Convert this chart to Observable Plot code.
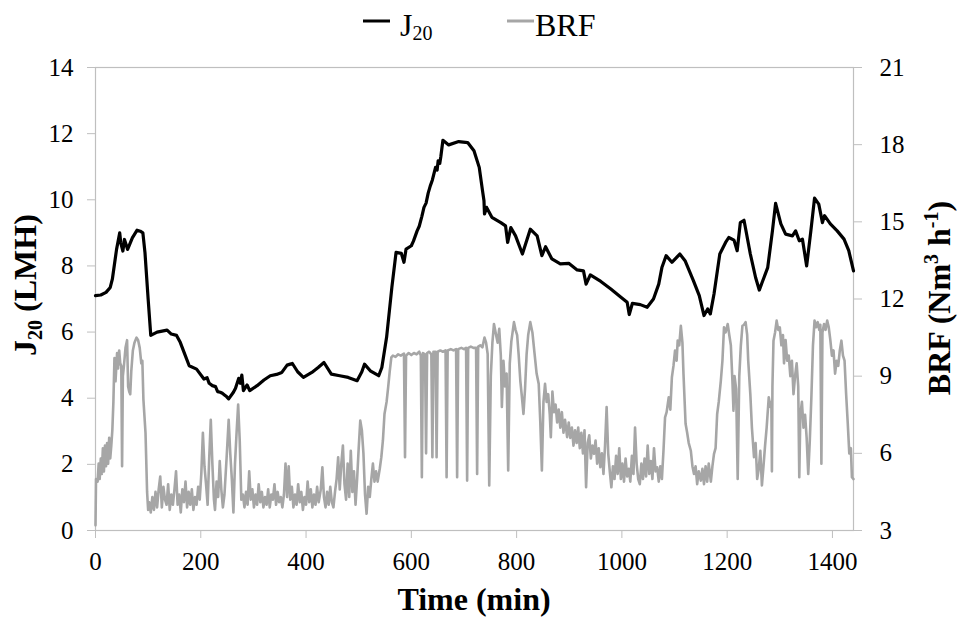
<!DOCTYPE html>
<html>
<head>
<meta charset="utf-8">
<script src="https://cdn.jsdelivr.net/npm/d3@7"></script>
<script src="https://cdn.jsdelivr.net/npm/@observablehq/plot@0.6"></script>
<style>
  html, body { margin: 0; padding: 0; background: #fff; }
  #wrap { width: 957px; font-family: "Liberation Serif", "Times New Roman", serif; }
  #legend { display: block; }
</style>
</head>
<body>
<div id="wrap">
  <svg id="legend" width="957" height="45"></svg>
  <div id="chart"></div>
</div>
<script>
// ---------------- data ----------------
const xTicks = [0, 200, 400, 600, 800, 1000, 1200, 1400];
const jTicks = [0, 2, 4, 6, 8, 10, 12, 14];
const brfTicks = [3, 6, 9, 12, 15, 18, 21];

const j20Time = [0,10,20,28,32,40,46,48,52,55,57,61,70,79,85,90,94,100,105,117,136,144,154,161,167,178,192,206,212,216,222,228,232,237,241,245,249,253,262,266,272,275,278,281,288,293,307,320,332,344,354,364,370,374,384,395,411,423,434,448,464,480,497,506,511,522,538,544,553,563,571,581,586,590,600,604,611,615,620,624,628,632,636,640,646,649,651,654,656,660,671,690,707,719,729,735,738,739,743,753,770,779,783,789,798,811,826,839,848,855,867,883,899,915,927,932,940,960,979,997,1010,1014,1020,1035,1048,1060,1070,1076,1084,1095,1110,1120,1136,1147,1156,1163,1168,1175,1186,1197,1203,1213,1219,1225,1232,1244,1254,1261,1277,1286,1292,1302,1311,1324,1330,1337,1343,1351,1359,1366,1374,1381,1385,1396,1409,1422,1431,1440];
const j20Value = [7.1,7.12,7.2,7.35,7.6,8.5,9.0,8.7,8.45,8.8,8.7,8.5,8.85,9.08,9.05,9.0,8.4,7.0,5.9,6.0,6.06,5.94,5.9,5.69,5.44,4.98,4.88,4.58,4.62,4.45,4.38,4.35,4.2,4.18,4.15,4.1,4.05,3.98,4.18,4.3,4.6,4.45,4.7,4.23,4.4,4.23,4.38,4.55,4.68,4.72,4.78,5.0,5.03,5.05,4.8,4.63,4.78,4.93,5.08,4.73,4.68,4.63,4.53,4.8,5.03,4.83,4.68,4.93,5.84,7.35,8.41,8.38,8.11,8.51,8.61,8.75,9.06,9.2,9.5,9.77,9.9,10.2,10.42,10.6,10.98,10.9,11.18,11.1,11.3,11.8,11.66,11.76,11.73,11.48,10.98,10.3,9.97,9.57,9.77,9.47,9.31,9.21,8.71,9.16,8.91,8.36,9.11,8.91,8.31,8.58,8.21,8.06,8.08,7.88,7.85,7.45,7.73,7.53,7.3,7.07,6.9,6.53,6.87,6.83,6.75,7.0,7.45,7.95,8.31,8.11,8.36,8.16,7.55,7.1,6.5,6.7,6.55,7.15,8.36,8.71,8.86,8.78,8.46,9.31,9.38,8.36,7.65,7.27,7.95,9.06,9.89,9.27,8.96,8.91,9.06,8.76,8.81,8.0,9.06,10.05,9.87,9.31,9.52,9.27,9.06,8.81,8.46,7.85];

const brfTime = [0,1,4,6,8,10,12,14,16,18,20,22,24,26,28,30,32,34,36,38,41,43,45,47,49,50.5,52,54,57,60,62,64,66,68,71,74,78,81,84,87,89,91,95,98,100,102,105,108,111,114,117,120,123,126,129,132,135,138,141,144,147,150,153,156,159,162,165,168,171,174,177,180,183,186,189,192,195,198,201,204,207,210,213,216,219,222,225,227,230,233,236,239,242,245,249,253,256,259,262,265,268,271,274,277,280,283,286,289,292,295,298,301,304,307,310,313,316,319,322,325,328,331,334,337,340,343,346,349,352,355,358,361,364,367,370,373,376,379,382,385,388,391,394,397,400,403,406,409,412,415,418,421,424,428,431,434,437,440,443,446,449,452,455,458,461,464,467,470,473,476,479,482,485,488,491,494,497,500,503,506,509,512,515,518,521,524,527,530,533,536,540,543,546,549,553,556,559,562,565,570,575,580,586,588,590,595,600,605,610,615,618,620,622,626,628,630,634,638,640,642,646,648,650,655,660,665,667,669,675,680,685,687,689,695,700,704,706,708,713,718,723,725,727,731,735,739,742,745,748,751,754,757,761,764,767,770,772,775,778,781,784,787,790,795,798,801,804,807,810,813,816,819,822,826,830,834,838,842,845,848,851,854,857,860,863,865,868,871,874,877,880,883,886,889,892,896,899,902,905,908,911,914,917,920,923,926,929,932,935,938,941,944,947,950,953,956,959,962,965,968,971,974,977,980,983,986,989,992,995,998,1001,1004,1007,1010,1013,1016,1019,1022,1025,1028,1031,1034,1037,1040,1043,1046,1049,1052,1055,1058,1061,1064,1067,1070,1073,1076,1079,1082,1085,1089,1092,1095,1098,1101,1104,1106,1109,1112,1115,1117,1121,1124,1127,1131,1134,1137,1140,1143,1146,1150,1153,1156,1159,1162,1165,1169,1172,1175,1178,1181,1184,1188,1191,1194,1197,1201,1204,1207,1210,1212,1214,1217,1220,1223,1226,1229,1232,1235,1238,1240,1244,1247,1251,1254,1257,1260,1263,1266,1269,1272,1275,1279,1282,1284,1285,1286,1288,1291,1294,1297,1300,1303,1306,1308,1311,1314,1317,1320,1323,1326,1329,1332,1335,1337,1339,1342,1345,1348,1351,1354,1357,1360,1363,1366,1369,1372,1375,1377,1379,1381,1384,1387,1390,1393,1396,1399,1402,1405,1408,1411,1414,1417,1420,1423,1426,1429,1432,1435,1437,1440];
const brfValue = [3.2,5.0,4.9,5.6,5.0,5.8,5.2,6.2,5.3,6.3,5.5,6.4,5.6,6.6,5.8,6.3,6.9,8.0,9.7,8.8,9.9,9.3,10.0,9.5,9.4,5.5,9.0,9.4,10.1,10.4,8.6,8.4,8.3,9.2,10.0,10.3,10.5,10.4,10.1,9.5,9.6,8.1,6.8,4.5,3.8,4.1,3.7,4.3,3.8,4.5,3.9,4.6,5.1,3.9,4.7,4.2,4.0,4.8,3.8,4.4,4.0,4.6,5.3,4.0,4.4,3.7,4.6,4.1,4.9,3.9,4.5,4.0,4.6,3.8,4.3,4.0,4.7,4.2,5.2,6.8,5.5,4.8,4.0,5.8,7.3,5.6,4.2,3.8,4.9,4.3,5.7,4.6,3.9,4.4,5.8,7.3,6.0,5.0,3.7,5.6,6.8,7.9,6.5,4.2,4.4,3.9,4.5,4.0,5.3,4.2,4.6,3.9,4.4,4.0,4.8,4.1,4.5,3.9,4.3,4.0,4.6,3.9,4.4,4.2,4.8,4.0,4.5,4.1,4.3,3.9,4.4,5.6,4.3,5.5,4.2,4.7,3.9,4.4,4.0,4.8,4.1,4.5,3.8,4.3,4.0,4.9,4.1,4.6,3.9,4.4,4.0,4.7,4.1,4.6,5.46,4.3,3.9,4.5,4.0,4.7,4.1,3.9,4.5,5.0,5.85,4.6,5.6,6.3,4.8,4.2,5.6,4.3,6.1,4.5,5.3,4.0,5.0,6.2,7.27,6.9,6.0,4.4,3.65,4.7,4.3,5.0,5.6,4.9,5.3,4.9,5.4,5.85,6.5,7.53,8.0,8.57,9.2,9.73,9.8,9.75,9.85,9.8,9.88,5.85,9.8,9.9,9.82,9.9,9.85,9.95,9.8,5.07,9.9,9.85,6.0,9.9,9.95,9.85,5.85,9.95,9.95,5.85,9.95,10.0,9.95,10.0,5.07,10.0,10.05,10.0,10.05,5.07,10.05,10.1,10.05,10.1,4.94,10.1,10.15,10.1,10.1,5.2,10.15,10.2,10.12,10.5,10.3,9.86,4.75,9.0,10.3,11.03,10.6,10.3,10.84,9.8,7.8,9.6,8.6,9.1,5.33,9.5,10.35,11.1,10.8,10.6,9.8,8.83,8.2,7.53,8.5,9.86,10.6,11.1,10.7,9.9,9.1,8.7,7.2,5.33,8.0,8.7,8.0,8.3,7.5,6.63,8.4,7.6,7.9,7.2,7.7,7.0,7.6,6.8,7.3,6.63,7.2,6.6,7.0,6.3,6.9,6.4,7.0,6.2,6.8,6.0,6.9,4.68,6.4,6.7,5.8,6.3,5.98,6.5,5.6,6.2,5.46,6.0,5.2,6.3,7.8,6.0,5.3,4.68,5.5,5.0,5.9,5.2,6.2,5.0,5.6,4.9,5.8,5.1,5.4,4.9,5.9,5.2,7.0,5.6,5.0,4.8,5.6,5.0,5.8,5.1,6.3,5.2,5.7,5.0,6.2,5.3,5.46,4.9,5.5,5.0,6.1,7.4,7.6,8.18,7.7,8.96,9.4,10.0,9.6,10.38,10.2,10.96,10.3,9.1,7.15,6.8,6.4,6.1,5.5,5.2,5.5,4.8,5.3,4.94,5.4,4.8,5.5,4.9,5.6,4.9,5.5,5.98,6.2,7.53,8.0,8.83,9.6,10.9,10.7,11.03,10.6,10.2,8.8,7.66,9.0,8.5,5.0,9.0,10.2,10.96,11.0,11.1,10.6,9.6,8.3,7.0,5.85,6.4,5.0,5.4,6.1,4.75,5.5,6.3,7.0,8.18,7.8,8.0,5.3,8.6,10.38,10.7,11.16,10.8,10.9,10.2,10.6,9.5,10.4,9.6,9.8,9.0,9.6,8.3,9.0,9.5,8.6,5.07,7.5,8.0,7.0,7.5,6.6,5.2,6.5,8.2,10.2,11.16,10.9,11.1,10.8,11.0,5.6,10.7,11.03,10.8,11.16,10.9,10.4,9.8,10.0,9.1,9.6,9.4,10.0,10.38,9.8,9.6,8.3,7.2,6.0,6.2,5.07,5.0];

// ---------------- build ----------------
const brfMin = 3, brfMax = 21, jMin = 0, jMax = 14;
const toJ = b => (b - brfMin) / (brfMax - brfMin) * (jMax - jMin) + jMin;

const j20 = j20Time.map((t, i) => ({t, v: j20Value[i]}));
const brf = brfTime.map((t, i) => ({t, v: toJ(brfValue[i])}));

const grey = "#bfbfbf";
const serif = "'Liberation Serif', 'Times New Roman', serif";

const W = 957, H = 575;
const mL = 95, mR = 104, mT = 22, mB = 90;

const chart = Plot.plot({
  width: W,
  height: H,
  marginLeft: mL,
  marginRight: mR,
  marginTop: mT,
  marginBottom: mB,
  style: {fontFamily: serif, fontSize: "25px", background: "#fff", color: "#000", overflow: "visible"},
  x: {domain: [0, 1440]},
  y: {domain: [jMin, jMax]},
  marks: [
    Plot.frame({stroke: grey, strokeWidth: 1.2}),
    Plot.axisX(xTicks, {anchor: "bottom", tickSize: 8, tickPadding: 14, stroke: grey, fill: "#000", fontSize: 25, label: null, tickFormat: d => String(d)}),
    Plot.axisY(jTicks, {anchor: "left", tickSize: 8, tickPadding: 14, stroke: grey, fill: "#000", fontSize: 25, label: null, tickFormat: d => String(d)}),
    Plot.axisY(brfTicks.map(toJ), {anchor: "right", tickSize: 8, tickPadding: 18, stroke: grey, fill: "#000", fontSize: 25, label: null, tickFormat: (d, i) => String(brfTicks[i])}),
    Plot.line(brf, {x: "t", y: "v", stroke: "#a6a6a6", strokeWidth: 2.6, strokeLinejoin: "round"}),
    Plot.line(j20, {x: "t", y: "v", stroke: "#000", strokeWidth: 3.2, strokeLinejoin: "round"})
  ]
});
document.getElementById("chart").appendChild(chart);

// ---------------- axis titles (with sub/superscripts) ----------------
const svg = d3.select(chart);
const titleFont = 32, smallFont = 20;

// x title
svg.append("text")
  .attr("x", (mL + (W - mR)) / 2)
  .attr("y", 565)
  .attr("text-anchor", "middle")
  .attr("font-family", serif)
  .attr("font-weight", "bold")
  .attr("font-size", titleFont)
  .attr("fill", "#000")
  .text("Time (min)");

// left title
const lt = svg.append("text")
  .attr("transform", `translate(36,${240}) rotate(-90)`)
  .attr("text-anchor", "middle")
  .attr("font-family", serif)
  .attr("font-weight", "bold")
  .attr("font-size", titleFont)
  .attr("fill", "#000");
lt.append("tspan").text("J");
lt.append("tspan").attr("font-size", smallFont).attr("dy", 6).text("20");
lt.append("tspan").attr("dy", -6).text(" (LMH)");

// right title
const rt = svg.append("text")
  .attr("transform", `translate(950,${253}) rotate(-90)`)
  .attr("text-anchor", "middle")
  .attr("font-family", serif)
  .attr("font-weight", "bold")
  .attr("font-size", titleFont)
  .attr("fill", "#000");
rt.append("tspan").text("BRF (Nm");
rt.append("tspan").attr("font-size", smallFont).attr("dy", -12).text("3");
rt.append("tspan").attr("dy", 12).text(" h");
rt.append("tspan").attr("font-size", smallFont).attr("dy", -12).text("-1");
rt.append("tspan").attr("dy", 12).text(")");

// ---------------- legend ----------------
const lg = d3.select("#legend");
lg.append("line").attr("x1", 363).attr("x2", 390).attr("y1", 21).attr("y2", 21)
  .attr("stroke", "#000").attr("stroke-width", 3);
const lj = lg.append("text").attr("x", 400).attr("y", 36)
  .attr("font-family", serif).attr("font-size", 32).attr("fill", "#000");
lj.append("tspan").text("J");
lj.append("tspan").attr("font-size", smallFont).attr("dy", 4).text("20");
lg.append("line").attr("x1", 507).attr("x2", 534).attr("y1", 21).attr("y2", 21)
  .attr("stroke", "#a6a6a6").attr("stroke-width", 3);
lg.append("text").attr("x", 535).attr("y", 36)
  .attr("font-family", serif).attr("font-size", 32).attr("fill", "#000").text("BRF");
</script>
</body>
</html>
